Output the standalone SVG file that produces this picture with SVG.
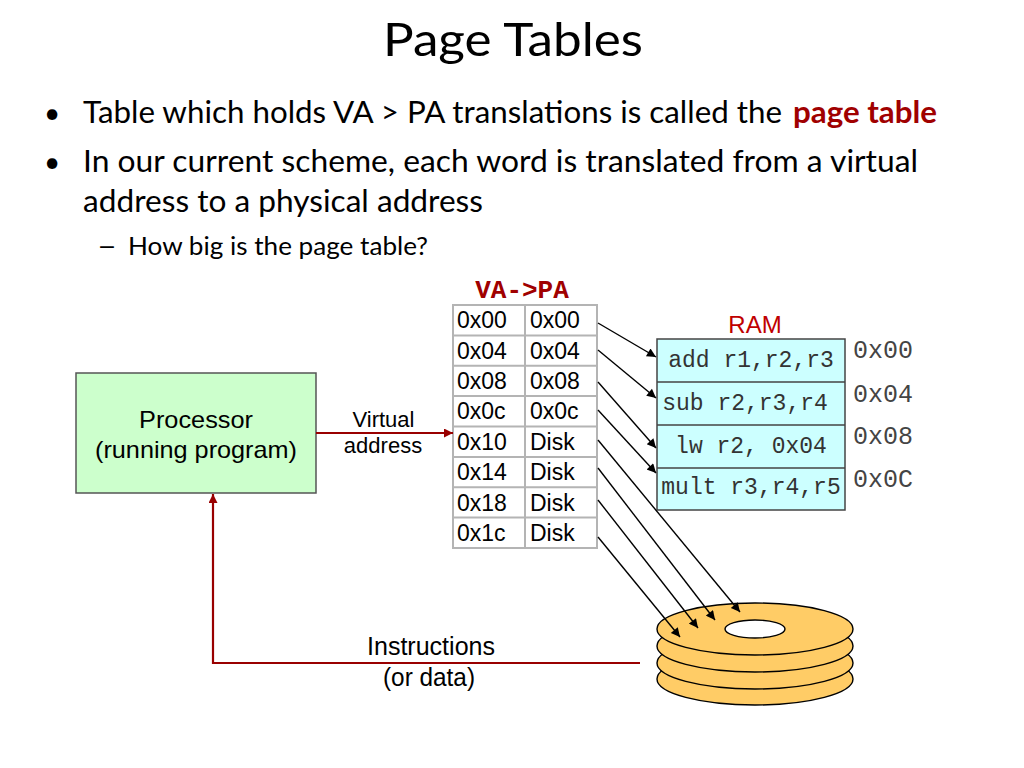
<svg xmlns="http://www.w3.org/2000/svg" width="1024" height="768" viewBox="0 0 1024 768">
<defs>
<style>
.slide{font-family:Lato,"Open Sans","Liberation Sans",sans-serif;fill:#000}
.sans{font-family:"Liberation Sans",Arial,sans-serif;fill:#000}
.mono{font-family:"Liberation Mono","Courier New",monospace}
.cell{font-family:"Liberation Sans",Arial,sans-serif;font-size:23px;fill:#000}
.grid{stroke:#b4b4b4;stroke-width:2;fill:none}
.blk{stroke:#000;stroke-width:1.4;fill:none;marker-end:url(#ab)}
.red{stroke:#990000;stroke-width:2.2;fill:none;marker-end:url(#ar)}
.plat{fill:#ffcc66;stroke:#000;stroke-width:1.4}
.ram{font-size:23px;fill:#333;text-anchor:middle}
.addr{font-size:25px;fill:#444}
</style>
<marker id="ab" viewBox="0 0 10 10" refX="10" refY="5" markerWidth="11" markerHeight="9" markerUnits="userSpaceOnUse" orient="auto">
<path d="M0,0 L10,5 L0,10 z" fill="#000"/>
</marker>
<marker id="ar" viewBox="0 0 10 10" refX="10" refY="5" markerWidth="11" markerHeight="9" markerUnits="userSpaceOnUse" orient="auto">
<path d="M0,0 L10,5 L0,10 z" fill="#990000"/>
</marker>
</defs>
<rect width="1024" height="768" fill="#fff"/>

<g id="title">
<text class="slide" x="383" y="56" font-size="46" textLength="260" lengthAdjust="spacingAndGlyphs">Page Tables</text>
</g>

<g id="bullets">
<text class="slide" x="52" y="123" font-size="28" text-anchor="middle">•</text>
<text class="slide" x="83" y="123" font-size="30" textLength="699" lengthAdjust="spacingAndGlyphs">Table which holds VA &gt; PA translations is called the</text>
<text class="slide" x="793" y="123" font-size="30" font-weight="bold" style="fill:#a00000" textLength="144" lengthAdjust="spacingAndGlyphs">page table</text>
<text class="slide" x="52" y="172" font-size="28" text-anchor="middle">•</text>
<text class="slide" x="83" y="172" font-size="30" textLength="835" lengthAdjust="spacingAndGlyphs">In our current scheme, each word is translated from a virtual</text>
<text class="slide" x="83" y="212" font-size="30" textLength="400" lengthAdjust="spacingAndGlyphs">address to a physical address</text>
<text class="slide" x="97" y="255" font-size="25" textLength="20" lengthAdjust="spacingAndGlyphs">–</text>
<text class="slide" x="128" y="255" font-size="25" textLength="300" lengthAdjust="spacingAndGlyphs">How big is the page table?</text>
</g>

<g id="processor">
<rect x="76" y="373" width="240" height="120" fill="#ccffcc" stroke="#555" stroke-width="1.5"/>
<text class="sans" x="139" y="428" font-size="24" textLength="114" lengthAdjust="spacingAndGlyphs">Processor</text>
<text class="sans" x="95" y="458" font-size="24" textLength="202" lengthAdjust="spacingAndGlyphs">(running program)</text>
</g>

<g id="page-table">
<text class="mono" x="522" y="298" font-size="26" font-weight="bold" fill="#a00000" text-anchor="middle">VA-&gt;PA</text>
<rect x="453" y="305" width="144" height="243" fill="#fff"/>
<path class="grid" d="M453,305 H597 V548 H453 Z M525,305 V548 M453,335.4 H597 M453,365.75 H597 M453,396.1 H597 M453,426.5 H597 M453,456.9 H597 M453,487.25 H597 M453,517.6 H597"/>
<text class="cell" x="457" y="328">0x00</text><text class="cell" x="530" y="328">0x00</text>
<text class="cell" x="457" y="358.5">0x04</text><text class="cell" x="530" y="358.5">0x04</text>
<text class="cell" x="457" y="389">0x08</text><text class="cell" x="530" y="389">0x08</text>
<text class="cell" x="457" y="419.3">0x0c</text><text class="cell" x="530" y="419.3">0x0c</text>
<text class="cell" x="457" y="449.7">0x10</text><text class="cell" x="530" y="449.7">Disk</text>
<text class="cell" x="457" y="480">0x14</text><text class="cell" x="530" y="480">Disk</text>
<text class="cell" x="457" y="510.5">0x18</text><text class="cell" x="530" y="510.5">Disk</text>
<text class="cell" x="457" y="541">0x1c</text><text class="cell" x="530" y="541">Disk</text>
</g>

<g id="ram">
<text class="sans" x="755" y="333" font-size="24" text-anchor="middle" style="fill:#c00000">RAM</text>
<rect x="657" y="339" width="188" height="171" fill="#ccffff" stroke="#444" stroke-width="1.5"/>
<path d="M657,382 H845 M657,425 H845 M657,468 H845" stroke="#444" stroke-width="1.5"/>
<text class="mono ram" x="751" y="367">add r1,r2,r3</text>
<text class="mono ram" x="745" y="410">sub r2,r3,r4</text>
<text class="mono ram" x="751" y="453">lw r2, 0x04</text>
<text class="mono ram" x="751" y="494">mult r3,r4,r5</text>
<text class="mono addr" x="853" y="358">0x00</text>
<text class="mono addr" x="853" y="402">0x04</text>
<text class="mono addr" x="853" y="444">0x08</text>
<text class="mono addr" x="853" y="487">0x0C</text>
</g>

<g id="disk">
<ellipse class="plat" cx="755" cy="679" rx="98" ry="26"/>
<ellipse class="plat" cx="755" cy="663" rx="98" ry="26"/>
<ellipse class="plat" cx="755" cy="646" rx="98" ry="26"/>
<ellipse class="plat" cx="755" cy="629" rx="98" ry="26"/>
<ellipse cx="755" cy="629" rx="30" ry="9" fill="#fff" stroke="#000" stroke-width="1.4"/>
</g>

<g id="labels">
<text class="sans" x="383.5" y="427" font-size="22" text-anchor="middle">Virtual</text>
<text class="sans" x="383" y="453" font-size="22" text-anchor="middle">address</text>
<text class="sans" x="367" y="655" font-size="25" textLength="128" lengthAdjust="spacingAndGlyphs">Instructions</text>
<text class="sans" x="383" y="686" font-size="25" textLength="92" lengthAdjust="spacingAndGlyphs">(or data)</text>
</g>

<g id="connectors">
<line class="red" x1="316" y1="433" x2="453" y2="433"/>
<path class="red" d="M640,663 H213 V494"/>
<line class="blk" x1="598" y1="323" x2="656" y2="357"/>
<line class="blk" x1="598" y1="350" x2="656" y2="398"/>
<line class="blk" x1="598" y1="382" x2="656" y2="448"/>
<line class="blk" x1="598" y1="410" x2="656" y2="473"/>
<line class="blk" x1="598" y1="440" x2="740" y2="612"/>
<line class="blk" x1="598" y1="468" x2="715" y2="620"/>
<line class="blk" x1="598" y1="500" x2="698" y2="628"/>
<line class="blk" x1="598" y1="537" x2="680" y2="637"/>
</g>
</svg>
